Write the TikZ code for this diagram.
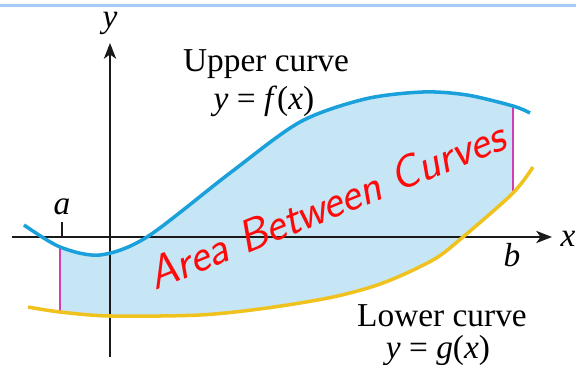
\documentclass[tikz,border=0pt]{standalone}
\usepackage{fontspec}
\setmainfont{Liberation Serif}
\usetikzlibrary{arrows.meta}
\definecolor{topbar}{HTML}{A3CDF5}
\definecolor{upper}{HTML}{1AA0DA}
\definecolor{lower}{HTML}{EFC21E}
\definecolor{region}{HTML}{C6E6F6}
\definecolor{bound}{HTML}{D43CB4}
\definecolor{pen}{HTML}{FF0A0A}
\definecolor{ink}{HTML}{1A1A1A}
\newcommand{\ital}[1]{\textit{#1}}

\begin{document}
\begin{tikzpicture}[x=0.02cm,y=0.02cm,font=\fontsize{19}{22}\selectfont,
    >={Stealth[length=9pt,width=7pt,inset=2.5pt]}]
  \useasboundingbox (0,0) rectangle (576,365);
  \draw[topbar,line width=1.7pt] (0,359.5) -- (576,359.5);

  % region between f and g, cut off at a and b
  \begin{scope}
    \clip (60,0) rectangle (513,365);
    \fill[region] plot[smooth] coordinates {(24,140) (60,118) (100,110) (147,128) (230,192)
        (300,243) (365,266) (423,273) (467,270) (513,259) (530,252)}
      -- plot[smooth] coordinates {(533,198) (513,172) (463,128) (433,105) (383,82) (333,68)
        (267,57) (200,50) (110,49) (60,53) (28,58)} -- cycle;
  \end{scope}

  % axes
  \coordinate (xl) at (12,128);
  \coordinate (xr) at (552,128);
  \coordinate (yb) at (110,8);
  \coordinate (yt) at (110,322);
  \draw[ink,line width=1.1pt,->] (xl) -- (xr);
  \draw[ink,line width=1.1pt,->] (yb) -- (yt);
  \coordinate (a0) at (62,128);
  \coordinate (a1) at (62,143);
  \draw[ink,line width=1.1pt] (a0) -- (a1);

  % vertical segments at a and b
  \coordinate (fa) at (60,118);
  \coordinate (ga) at (60,53);
  \coordinate (fb) at (513,259);
  \coordinate (gb) at (513,172);
  \draw[bound,line width=1.3pt] (fa) -- (ga);
  \draw[bound,line width=1.3pt] (fb) -- (gb);

  % the two curves
  \draw[upper,line width=2pt] plot[smooth] coordinates {(24,140) (60,118) (100,110) (147,128)
      (230,192) (300,243) (365,266) (423,273) (467,270) (513,259) (530,252)};
  \draw[lower,line width=2pt] plot[smooth] coordinates {(28,58) (60,53) (110,49) (200,50)
      (267,57) (333,68) (383,82) (433,105) (463,128) (513,172) (533,198)};

  \node (ylab) at (110,342) {\ital{y}};
  \node (xlab) at (568,126) {\ital{x}};
  \node (alab) at (62,158) {\ital{a}};
  \node (blab) at (512,110) {\ital{b}};
  \node (uptext) at (266,301) {Upper curve};
  \node (upeq) at (264,264) {\ital{y} = \ital{f}(\ital{x})};
  \node (lowtext) at (442,49) {Lower curve};
  \node (loweq) at (438,14) {\ital{y} = \ital{g}(\ital{x})};

  \node[text=pen,font=\fontsize{26}{28}\sffamily\itshape,rotate=22] (hand) at (326,160)
    {Area Between Curves};
\end{tikzpicture}
\end{document}
